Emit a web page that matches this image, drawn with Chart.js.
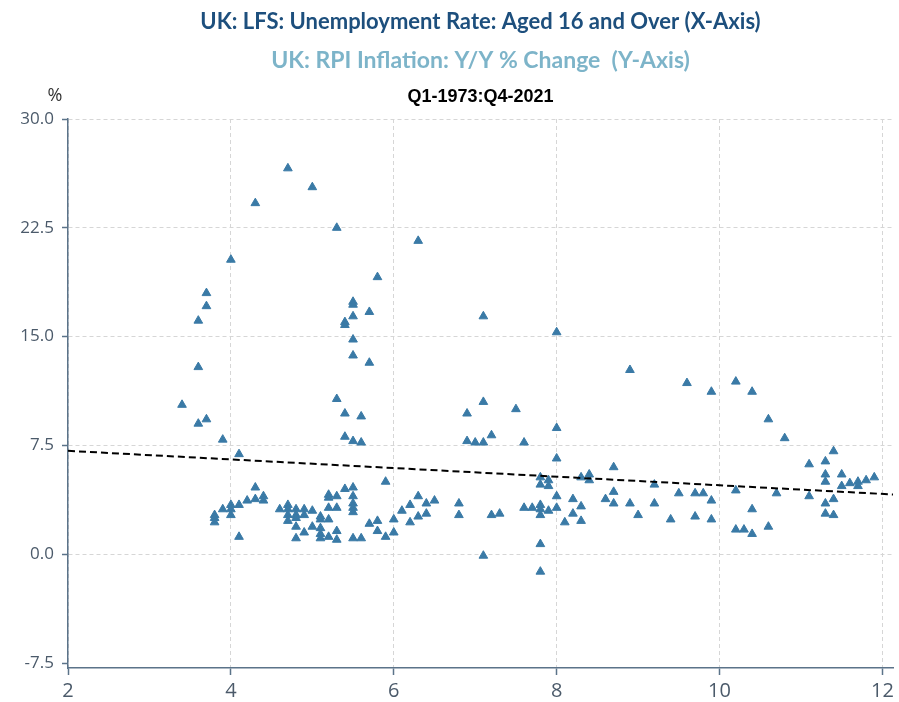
<!DOCTYPE html>
<html>
<head>
<meta charset="utf-8">
<script src="https://cdn.jsdelivr.net/npm/chart.js@4.4.1/dist/chart.umd.min.js"></script>
<style>
  html, body { margin: 0; padding: 0; background: #ffffff; }
  canvas { display: block; }
</style>
</head>
<body>
<canvas id="chart" width="899" height="702"></canvas>
<script>
// Quarterly observations: LFS unemployment rate (%) and RPI inflation y/y (%)
const unemployment = [
  4.7, 5.0, 4.3, 5.3, 4.0, 5.8, 3.7, 3.7, 5.5, 5.5, 5.5, 5.7, 3.6, 5.4, 5.4, 5.5,
  5.5, 5.7, 3.6, 3.4, 5.3, 5.4, 5.6, 3.6, 3.7, 3.9, 5.4, 5.5, 5.6, 6.3, 7.1, 8.0,
  8.9, 7.1, 6.9, 7.5, 8.0, 6.9, 7.0, 7.1, 7.2, 7.6, 9.6, 9.9, 10.2, 10.4, 10.6, 10.8,
  11.4, 4.1, 3.8, 3.8, 3.8, 3.9, 4.0, 4.0, 4.0, 4.1, 4.1, 4.2, 4.3, 4.3, 4.4, 4.4,
  4.6, 4.7, 4.7, 4.7, 4.7, 4.8, 4.8, 4.8, 4.8, 4.8, 4.9, 4.9, 4.9, 5.0, 5.0, 5.1,
  5.1, 5.1, 5.1, 5.1, 5.2, 5.2, 5.2, 5.2, 5.2, 5.3, 5.3, 5.3, 5.3, 5.4, 5.5, 5.5,
  5.5, 5.5, 5.5, 5.5, 5.6, 5.7, 5.8, 5.8, 5.9, 5.9, 6.0, 6.0, 6.1, 6.2, 6.2, 6.3,
  6.3, 6.4, 6.4, 6.5, 6.8, 6.8, 7.1, 7.2, 7.3, 7.6, 7.7, 7.8, 7.8, 7.8, 7.8, 7.8,
  7.8, 7.8, 7.9, 7.9, 7.9, 8.0, 8.0, 8.0, 8.1, 8.2, 8.2, 8.3, 8.3, 8.3, 8.4, 8.4,
  8.6, 8.7, 8.7, 8.7, 8.9, 9.0, 9.2, 9.2, 9.4, 9.5, 9.7, 9.7, 9.8, 9.9, 9.9, 10.2,
  10.2, 10.3, 10.4, 10.4, 10.6, 10.7, 11.1, 11.1, 11.3, 11.3, 11.3, 11.3, 11.3, 11.4, 11.4, 11.5,
  11.5, 11.6, 11.7, 11.7, 11.8, 11.9
];
const inflation = [
  26.6, 25.3, 24.2, 22.5, 20.3, 19.1, 18.0, 17.1, 17.4, 17.2, 16.4, 16.7, 16.1, 16.0, 15.8, 14.8,
  13.7, 13.2, 12.9, 10.3, 10.7, 9.7, 9.5, 9.0, 9.3, 7.9, 8.1, 7.8, 7.7, 21.6, 16.4, 15.3,
  12.7, 10.5, 9.7, 10.0, 8.7, 7.8, 7.7, 7.7, 8.2, 7.7, 11.8, 11.2, 11.9, 11.2, 9.3, 8.0,
  7.1, 6.9, 2.7, 2.5, 2.2, 3.1, 3.4, 3.1, 2.7, 3.4, 1.2, 3.7, 4.6, 3.8, 4.0, 3.7,
  3.1, 3.4, 3.1, 2.7, 2.3, 3.1, 2.7, 2.5, 1.9, 1.1, 3.1, 2.7, 1.5, 3.0, 1.9, 2.6,
  2.4, 1.8, 1.4, 1.1, 4.1, 3.9, 3.2, 2.4, 1.2, 4.0, 3.2, 1.6, 1.0, 4.5, 4.6, 4.0,
  3.5, 3.2, 2.9, 1.1, 1.1, 2.1, 2.3, 1.6, 5.0, 1.2, 2.4, 1.5, 3.0, 3.4, 2.2, 4.0,
  2.6, 3.5, 2.8, 3.7, 3.5, 2.7, -0.1, 2.7, 2.8, 3.2, 3.2, 5.3, 4.8, 3.4, 3.1, 2.7,
  0.7, -1.2, 5.1, 4.7, 3.0, 6.6, 4.0, 3.2, 2.2, 3.8, 2.8, 5.3, 3.3, 2.3, 5.5, 5.1,
  3.8, 6.0, 4.3, 3.5, 3.5, 2.7, 4.8, 3.5, 2.4, 4.2, 4.2, 2.6, 4.2, 3.7, 2.4, 4.4,
  1.7, 1.7, 3.1, 1.4, 1.9, 4.2, 6.2, 4.0, 6.4, 5.5, 5.0, 3.5, 2.8, 3.8, 2.7, 5.5,
  4.7, 4.9, 5.0, 4.7, 5.1, 5.3
];

// Fitted linear trend, end points
const trendX = [2, 12.13];
const trendY = [7.13, 4.12];

// Axis ticks and ranges
const xTickValues = [2, 4, 6, 8, 10, 12];
const yTickValues = [-7.5, 0, 7.5, 15, 22.5, 30];
const xRange = [2, 12.13];
const yRange = [-7.84, 30];

const headerLines = [
  { text: 'UK: LFS: Unemployment Rate: Aged 16 and Over (X-Axis)', font: 'bold 22px Lato, "Open Sans", sans-serif', color: '#1d4f7d', y: 22 },
  { text: 'UK: RPI Inflation: Y/Y % Change  (Y-Axis)', font: 'bold 23px Lato, "Open Sans", sans-serif', color: '#7db4c9', y: 61 },
  { text: 'Q1-1973:Q4-2021', font: 'bold 18px "Liberation Sans", Arial, sans-serif', color: '#000000', y: 97 }
];
const unitLabel = '%';

const axisColor = '#5b7389';
const gridColor = '#d6d6d6';
const tickColor = '#4b5a6a';
const markColor = '#3a7aa6';

const points = unemployment.map((u, i) => ({ x: u, y: inflation[i] }));
const trend = trendX.map((x, i) => ({ x: x, y: trendY[i] }));

const headerPlugin = {
  id: 'header',
  beforeDraw(chart) {
    const ctx = chart.ctx;
    ctx.save();
    ctx.fillStyle = '#ffffff';
    ctx.fillRect(0, 0, chart.width, chart.height);
    ctx.restore();
  },
  afterDraw(chart) {
    const { ctx, chartArea } = chart;
    const cx = (chartArea.left + chartArea.right) / 2;
    ctx.save();
    ctx.textAlign = 'center';
    ctx.textBaseline = 'middle';
    headerLines.forEach(line => {
      ctx.font = line.font;
      ctx.fillStyle = line.color;
      ctx.fillText(line.text, cx, line.y);
    });
    ctx.font = '18px "Open Sans", sans-serif';
    ctx.fillStyle = '#333333';
    ctx.fillText(unitLabel, 55, 96);
    ctx.restore();
  }
};

new Chart(document.getElementById('chart'), {
  type: 'scatter',
  data: {
    datasets: [
      {
        type: 'line',
        data: trend,
        borderColor: '#000000',
        borderWidth: 2,
        borderDash: [7, 4],
        pointRadius: 0,
        fill: false,
        order: 0
      },
      {
        data: points,
        pointStyle: 'triangle',
        pointRadius: 5,
        backgroundColor: markColor,
        borderColor: markColor,
        borderWidth: 1,
        order: 1
      }
    ]
  },
  options: {
    responsive: false,
    animation: false,
    events: [],
    layout: { padding: { top: 119, right: 4, left: 0, bottom: 0 } },
    plugins: {
      legend: { display: false },
      tooltip: { enabled: false }
    },
    scales: {
      x: {
        type: 'linear',
        position: 'bottom',
        min: xRange[0],
        max: xRange[1],
        afterBuildTicks: scale => { scale.ticks = xTickValues.map(v => ({ value: v })); },
        afterFit: scale => { scale.height = 34; },
        ticks: {
          color: tickColor,
          font: { family: '"Open Sans", sans-serif', size: 20 },
          padding: 4,
          maxRotation: 0,
          callback: v => String(v)
        },
        grid: {
          color: gridColor,
          lineWidth: 1,
          tickLength: 7,
          tickColor: axisColor,
          tickWidth: 1.5
        },
        border: { display: true, color: axisColor, width: 1.5, dash: [4, 3] }
      },
      y: {
        type: 'linear',
        min: yRange[0],
        max: yRange[1],
        afterBuildTicks: scale => { scale.ticks = yTickValues.map(v => ({ value: v })); },
        afterFit: scale => { scale.width = 68; },
        ticks: {
          color: tickColor,
          font: { family: '"Open Sans", sans-serif', size: 17 },
          padding: 8,
          callback: v => v.toFixed(1)
        },
        grid: {
          color: ctx => (ctx.tick && ctx.tick.value === -7.5) ? 'rgba(0,0,0,0)' : gridColor,
          lineWidth: 1,
          tickLength: 6,
          tickColor: axisColor,
          tickWidth: 1.5
        },
        border: { display: true, color: axisColor, width: 1.5, dash: [4, 3] }
      }
    }
  },
  plugins: [headerPlugin]
});
</script>
</body>
</html>
